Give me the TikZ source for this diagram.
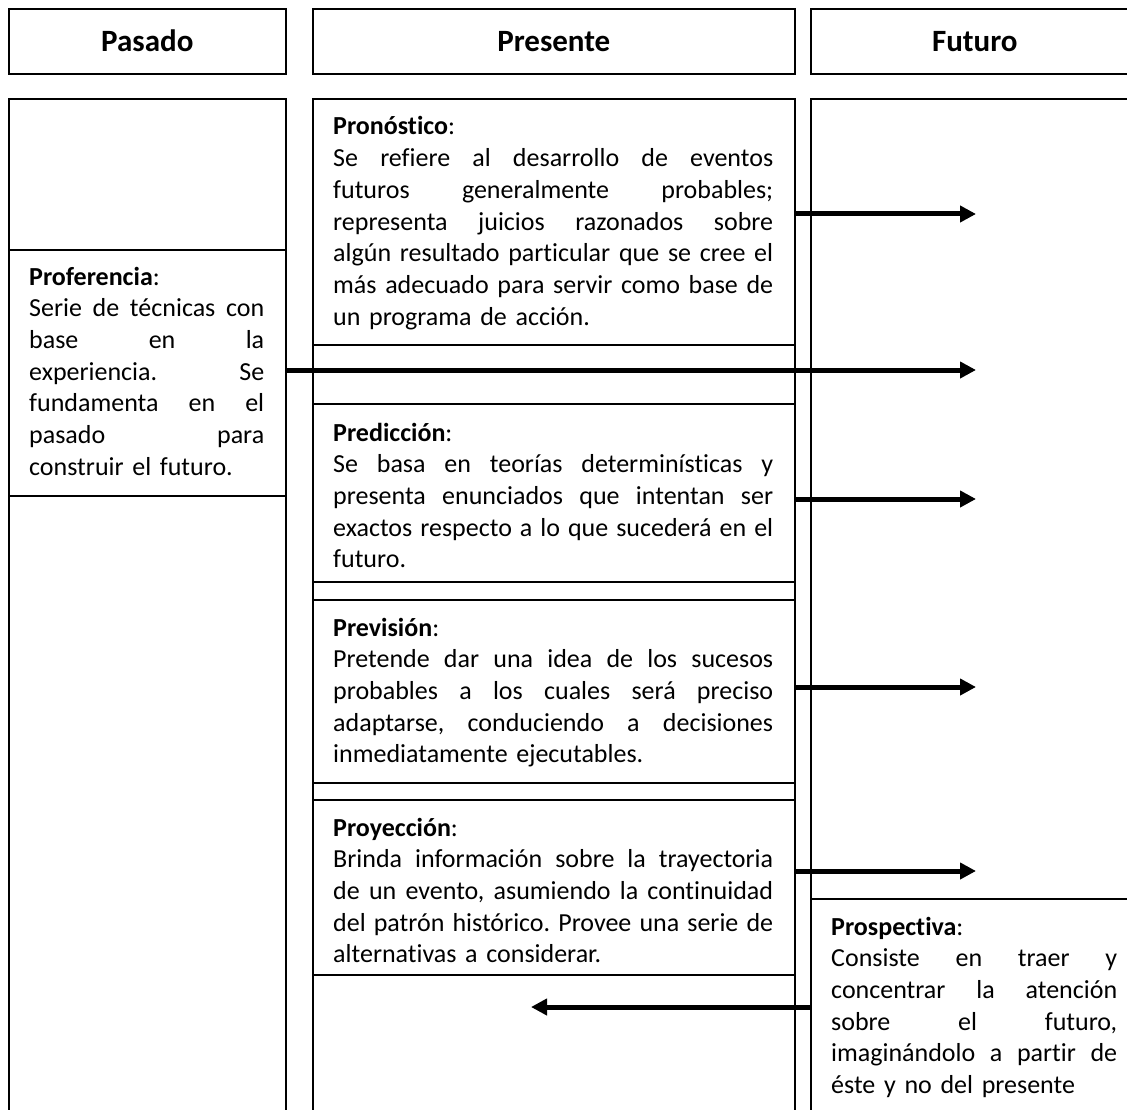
\documentclass[tikz,border=0pt]{standalone}
\usepackage{fontspec}
\setmainfont{Carlito}[Ligatures=NoCommon]
\usetikzlibrary{arrows.meta}
\frenchspacing
\newcommand\jl[2][440pt]{\leavevmode\hbox to #1{\spaceskip=0.226em plus 3em minus 0.05em\relax #2}}
\tikzset{
  box/.style={draw, line width=1.6pt, anchor=north west, inner sep=0pt, rectangle},
  hdr/.style={font=\fontsize{31}{37}\selectfont\bfseries, text height=20pt, text depth=0pt},
  body/.style={anchor=base west, inner sep=0pt, align=left, font=\fontsize{26}{31.7}\selectfont\frenchspacing},
  arr/.style={line width=5pt, -{Triangle[length=16pt,width=16pt]}},
}
\begin{document}
\begin{tikzpicture}[x=1pt,y=-1pt]
\useasboundingbox (0,0) rectangle (1127,1110);
\fill[white] (0,0) rectangle (1127,1110);
\clip (0,0) rectangle (1127,1110);
% headers
\node[box,hdr,minimum width=277pt,minimum height=65pt] (hpas) at (8,8) {Pasado};
\node[box,hdr,minimum width=482pt,minimum height=65pt] (hpre) at (312,8) {Presente};
\node[box,hdr,minimum width=328pt,minimum height=65pt] (hfut) at (810,8) {Futuro};
% columns
\node[box,minimum width=277pt,minimum height=1040pt] (cpas) at (8,98) {};
\node[box,minimum width=482pt,minimum height=1040pt] (cpre) at (312,98) {};
\node[box,minimum width=328pt,minimum height=1040pt] (cfut) at (810,98) {};
% boxes
\node[box,minimum width=277pt,minimum height=246pt] (prof) at (8,249) {};
\node[box,minimum width=482pt,minimum height=246pt] (pron) at (312,98) {};
\node[box,minimum width=482pt,minimum height=59pt] (gap1) at (312,344) {};
\node[box,minimum width=482pt,minimum height=178pt] (pred) at (312,403) {};
\node[box,minimum width=482pt,minimum height=183pt] (prev) at (312,599) {};
\node[box,minimum width=482pt,minimum height=175pt] (proy) at (312,799) {};
\node[box,minimum width=328pt,minimum height=240pt] (prosp) at (810,898) {};
% texts
\node[body,text width=235pt] (tprof) at (29,285) {\textbf{Proferencia}:\\
\jl[235pt]{Serie de técnicas con}\\
\jl[235pt]{base en la}\\
\jl[235pt]{experiencia. Se}\\
\jl[235pt]{fundamenta en el}\\
\jl[235pt]{pasado para}\\
construir el futuro.};
\node[body,text width=440pt] (tpron) at (333,135) {\textbf{Pronóstico}:\\
\jl{Se refiere al desarrollo de eventos}\\
\jl{futuros generalmente probables;}\\
\jl{representa juicios razonados sobre}\\
\jl{algún resultado particular que se cree el}\\
\jl{más adecuado para servir como base de}\\
un programa de acción.};
\node[body,text width=440pt] (tpred) at (333,441) {\textbf{Predicción}:\\
\jl{Se basa en teorías determinísticas y}\\
\jl{presenta enunciados que intentan ser}\\
\jl{exactos respecto a lo que sucederá en el}\\
futuro.};
\node[body,text width=440pt] (tprev) at (333,636) {\textbf{Previsión}:\\
\jl{Pretende dar una idea de los sucesos}\\
\jl{probables a los cuales será preciso}\\
\jl{adaptarse, conduciendo a decisiones}\\
inmediatamente ejecutables.};
\node[body,text width=440pt] (tproy) at (333,836) {\textbf{Proyección}:\\
\jl{Brinda información sobre la trayectoria}\\
\jl{de un evento, asumiendo la continuidad}\\
\jl{del patrón histórico. Provee una serie de}\\
alternativas a considerar.};
\node[body,text width=286pt] (tprosp) at (831,935) {\textbf{Prospectiva}:\\
\jl[286pt]{Consiste en traer y}\\
\jl[286pt]{concentrar la atención}\\
\jl[286pt]{sobre el futuro,}\\
\jl[286pt]{imaginándolo a partir de}\\
éste y no del presente};
% arrow tips
\coordinate (t1) at (976,214);
\coordinate (t2) at (976,370);
\coordinate (t3) at (976,499);
\coordinate (t4) at (976,687);
\coordinate (t5) at (976,871);
\coordinate (t6) at (531,1007);
\draw[arr] (pron.east |- t1) -- (t1);
\draw[arr] (prof.east |- t2) -- (t2);
\draw[arr] (pred.east |- t3) -- (t3);
\draw[arr] (prev.east |- t4) -- (t4);
\draw[arr] (proy.east |- t5) -- (t5);
\draw[arr] (prosp.west |- t6) -- (t6);
\end{tikzpicture}
\end{document}
